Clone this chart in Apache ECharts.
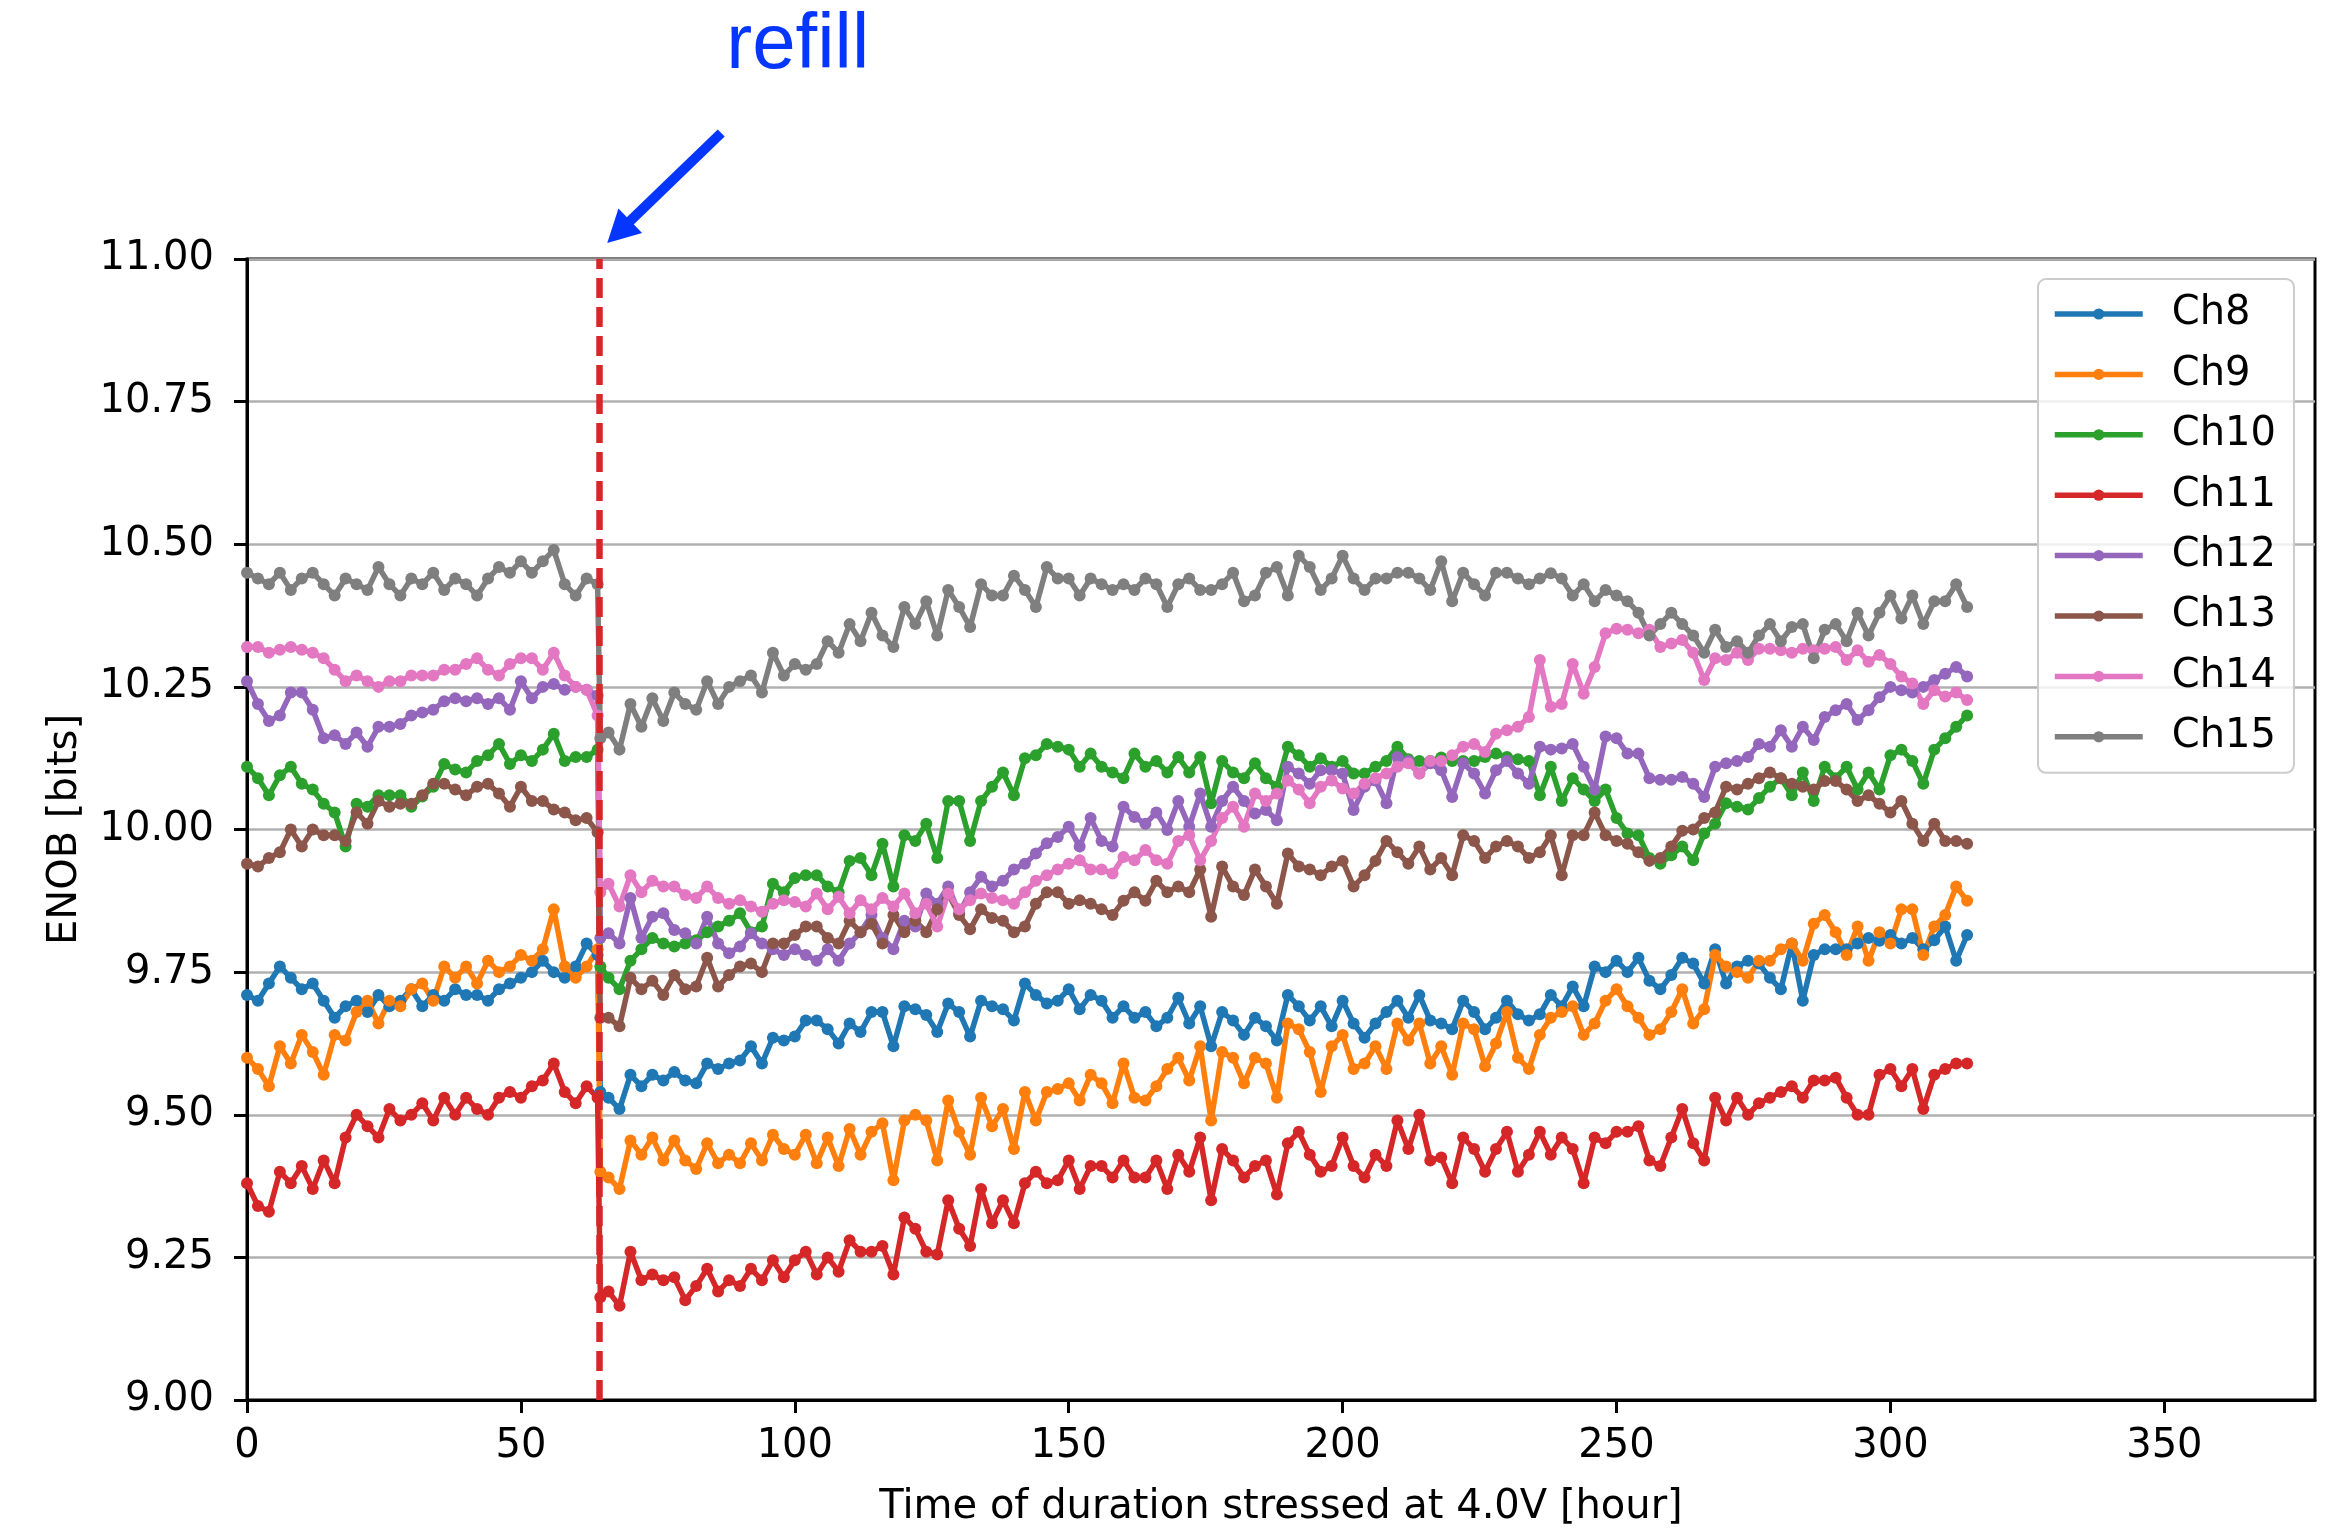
<!DOCTYPE html>
<html>
<head>
<meta charset="utf-8">
<script src="https://cdn.jsdelivr.net/npm/echarts@6/dist/echarts.min.js"></script>
<style>
  html, body { margin: 0; padding: 0; background: #ffffff; }
  #chart { width: 2331px; height: 1533px; }
</style>
</head>
<body>
<div id="chart"></div>
<script>
// Sampling times (hours under 4.0V stress); the refill happens just after 64 h
const HOURS = [
  0,2,4,6,8,10,12,14,16,18,20,22,24,26,28,30,32,34,36,38,40,42,44,46,48,50,52,54,56,58,60,62,64,
  64.5,
  66,68,70,72,74,76,78,80,82,84,86,88,90,92,94,96,98,100,102,104,106,108,110,112,114,116,118,120,
  122,124,126,128,130,132,134,136,138,140,142,144,146,148,150,152,
  154,156,158,160,162,164,166,168,170,172,174,176,178,180,182,184,186,188,190,192,194,196,198,200,
  202,204,206,208,210,212,214,216,218,220,222,224,226,228,230,232,234,236,
  238,240,242,244,246,248,250,252,254,256,258,260,262,264,266,268,270,272,274,276,278,280,282,284,
  286,288,290,292,294,296,298,300,302,304,306,308,310,312,314
];

// ENOB per channel [bits]
const CH8 = [
  9.71,9.70,9.73,9.76,9.74,9.72,9.73,9.70,9.67,9.69,9.70,9.68,9.71,9.69,9.70,9.72,9.69,9.71,9.70,9.72,9.71,9.71,9.70,9.72,9.73,9.74,9.75,9.77,9.75,9.74,9.76,9.80,9.78,
  9.54,
  9.53,9.51,9.57,9.55,9.57,9.56,9.575,9.56,9.555,9.59,9.58,9.59,9.595,9.62,9.59,9.635,9.63,9.637,9.665,9.665,9.65,9.625,9.66,9.645,9.68,9.68,9.62,9.69,9.685,9.675,9.645,9.695,9.68,9.637,9.70,9.69,9.685,9.665,9.73,9.71,9.695,9.70,9.72,9.685,
  9.71,9.70,9.67,9.69,9.67,9.68,9.655,9.67,9.705,9.66,9.69,9.62,9.68,9.665,9.64,9.67,9.655,9.63,9.71,9.69,9.665,9.69,9.655,9.70,9.66,9.635,9.66,9.68,9.70,9.67,9.71,9.665,9.66,9.65,9.70,9.68,9.65,9.67,9.70,9.676,9.665,9.676,
  9.71,9.69,9.725,9.69,9.76,9.75,9.77,9.75,9.775,9.735,9.72,9.745,9.775,9.765,9.73,9.79,9.73,9.76,9.77,9.765,9.74,9.72,9.80,9.70,9.78,9.79,9.79,9.79,9.80,9.81,9.805,9.815,9.80,9.81,9.79,9.806,9.83,9.77,9.815
];
const CH9 = [
  9.60,9.58,9.55,9.62,9.59,9.64,9.61,9.57,9.64,9.63,9.68,9.70,9.66,9.70,9.69,9.72,9.73,9.70,9.76,9.74,9.76,9.73,9.77,9.75,9.76,9.78,9.77,9.79,9.86,9.76,9.74,9.76,9.79,
  9.40,
  9.39,9.37,9.455,9.43,9.46,9.42,9.455,9.42,9.405,9.45,9.415,9.43,9.415,9.45,9.42,9.465,9.44,9.43,9.465,9.415,9.46,9.41,9.475,9.43,9.47,9.485,9.385,9.49,9.50,9.49,9.42,9.525,9.47,9.43,9.53,9.48,9.51,9.44,9.54,9.49,9.54,9.545,9.555,9.525,
  9.57,9.555,9.52,9.59,9.53,9.525,9.55,9.58,9.60,9.56,9.62,9.49,9.61,9.60,9.555,9.60,9.59,9.53,9.66,9.65,9.61,9.54,9.62,9.64,9.58,9.59,9.62,9.58,9.66,9.63,9.66,9.59,9.62,9.57,9.66,9.65,9.585,9.625,9.68,9.60,9.58,9.64,
  9.67,9.68,9.69,9.64,9.66,9.70,9.72,9.69,9.67,9.64,9.65,9.68,9.72,9.66,9.685,9.78,9.76,9.75,9.74,9.77,9.77,9.79,9.80,9.77,9.835,9.85,9.82,9.78,9.83,9.77,9.82,9.80,9.86,9.86,9.78,9.83,9.85,9.90,9.875
];
const CH10 = [
  10.11,10.09,10.06,10.095,10.11,10.08,10.07,10.045,10.03,9.97,10.045,10.04,10.06,10.06,10.06,10.04,10.058,10.075,10.115,10.105,10.10,10.12,10.13,10.15,10.115,10.13,10.12,10.14,10.168,10.12,10.127,10.127,10.14,
  9.76,
  9.74,9.72,9.77,9.79,9.81,9.80,9.795,9.80,9.806,9.82,9.83,9.84,9.853,9.82,9.83,9.905,9.89,9.915,9.92,9.92,9.90,9.89,9.945,9.95,9.92,9.975,9.90,9.99,9.98,10.01,9.95,10.05,10.05,9.98,10.05,10.075,10.10,10.06,10.125,10.13,10.15,10.145,10.14,10.11,
  10.133,10.11,10.10,10.09,10.133,10.11,10.12,10.10,10.127,10.10,10.127,10.046,10.12,10.10,10.09,10.116,10.09,10.075,10.145,10.13,10.11,10.125,10.11,10.12,10.098,10.098,10.11,10.12,10.145,10.123,10.12,10.12,10.126,10.12,10.12,10.12,10.127,10.133,10.127,10.123,10.12,10.06,
  10.11,10.05,10.09,10.07,10.05,10.07,10.02,9.993,9.99,9.95,9.94,9.955,9.97,9.946,9.993,10.01,10.046,10.04,10.035,10.055,10.075,10.09,10.06,10.10,10.05,10.11,10.09,10.11,10.07,10.10,10.07,10.13,10.14,10.12,10.08,10.14,10.16,10.18,10.20
];
const CH11 = [
  9.38,9.34,9.33,9.40,9.38,9.41,9.37,9.42,9.38,9.46,9.50,9.48,9.46,9.51,9.49,9.50,9.52,9.49,9.53,9.50,9.53,9.51,9.50,9.53,9.54,9.53,9.55,9.56,9.59,9.54,9.52,9.55,9.53,
  9.18,
  9.19,9.165,9.26,9.21,9.22,9.21,9.215,9.175,9.20,9.23,9.19,9.21,9.20,9.23,9.21,9.245,9.215,9.245,9.26,9.22,9.25,9.225,9.28,9.26,9.26,9.27,9.22,9.32,9.30,9.26,9.255,9.35,9.30,9.27,9.37,9.31,9.35,9.31,9.38,9.40,9.38,9.385,9.42,9.37,
  9.41,9.41,9.39,9.42,9.39,9.39,9.42,9.37,9.43,9.40,9.46,9.35,9.44,9.42,9.39,9.41,9.42,9.36,9.45,9.47,9.43,9.40,9.41,9.46,9.41,9.39,9.43,9.41,9.49,9.44,9.50,9.42,9.425,9.38,9.46,9.44,9.40,9.44,9.47,9.40,9.43,9.47,
  9.43,9.46,9.44,9.38,9.46,9.45,9.47,9.47,9.48,9.42,9.41,9.46,9.51,9.45,9.42,9.53,9.49,9.53,9.50,9.52,9.53,9.54,9.55,9.53,9.56,9.56,9.565,9.53,9.50,9.50,9.57,9.58,9.55,9.58,9.51,9.57,9.58,9.59,9.59
];
const CH12 = [
  10.26,10.22,10.19,10.20,10.24,10.24,10.21,10.16,10.165,10.15,10.17,10.145,10.18,10.18,10.185,10.20,10.205,10.21,10.225,10.23,10.225,10.23,10.22,10.23,10.21,10.26,10.23,10.25,10.255,10.245,10.25,10.245,10.235,
  9.81,
  9.818,9.80,9.88,9.81,9.847,9.853,9.824,9.818,9.80,9.847,9.80,9.783,9.795,9.818,9.80,9.79,9.78,9.79,9.78,9.77,9.79,9.77,9.80,9.82,9.85,9.81,9.79,9.84,9.83,9.888,9.87,9.90,9.853,9.89,9.917,9.90,9.91,9.93,9.94,9.958,9.976,9.987,10.005,9.97,
  10.02,9.98,9.97,10.04,10.022,10.01,10.03,9.999,10.05,10.005,10.063,10.005,10.05,10.075,10.05,10.028,10.034,10.016,10.11,10.098,10.08,10.104,10.104,10.098,10.034,10.075,10.086,10.046,10.127,10.12,10.098,10.116,10.104,10.057,10.116,10.098,10.063,10.104,10.12,10.098,10.08,10.145,
  10.14,10.142,10.15,10.11,10.07,10.163,10.16,10.133,10.133,10.09,10.087,10.087,10.092,10.08,10.057,10.11,10.116,10.12,10.127,10.15,10.145,10.174,10.145,10.18,10.157,10.197,10.209,10.22,10.192,10.209,10.232,10.25,10.244,10.24,10.25,10.262,10.273,10.285,10.268
];
const CH13 = [
  9.94,9.935,9.95,9.96,10.0,9.97,10.0,9.99,9.99,9.98,10.03,10.01,10.05,10.04,10.045,10.045,10.06,10.08,10.08,10.07,10.06,10.075,10.08,10.063,10.04,10.075,10.05,10.05,10.035,10.03,10.016,10.02,9.995,
  9.67,
  9.67,9.655,9.74,9.72,9.735,9.71,9.745,9.72,9.725,9.775,9.725,9.745,9.76,9.765,9.75,9.80,9.80,9.815,9.83,9.83,9.81,9.80,9.84,9.82,9.835,9.80,9.85,9.82,9.84,9.82,9.86,9.888,9.85,9.825,9.86,9.845,9.84,9.82,9.83,9.87,9.89,9.89,9.87,9.876,
  9.87,9.86,9.85,9.875,9.89,9.875,9.91,9.89,9.90,9.89,9.93,9.847,9.935,9.90,9.885,9.93,9.90,9.87,9.958,9.935,9.93,9.92,9.935,9.945,9.90,9.92,9.945,9.98,9.96,9.94,9.97,9.93,9.95,9.92,9.99,9.98,9.95,9.97,9.98,9.97,9.95,9.96,
  9.99,9.92,9.99,9.99,10.03,9.99,9.98,9.975,9.96,9.945,9.95,9.97,9.998,10.0,10.02,10.03,10.075,10.07,10.08,10.09,10.10,10.09,10.08,10.075,10.07,10.085,10.085,10.07,10.05,10.06,10.045,10.03,10.05,10.01,9.98,10.01,9.98,9.98,9.975
];
const CH14 = [
  10.32,10.32,10.31,10.315,10.32,10.315,10.31,10.30,10.28,10.26,10.27,10.26,10.25,10.26,10.26,10.27,10.27,10.27,10.28,10.28,10.29,10.30,10.28,10.27,10.29,10.30,10.30,10.28,10.31,10.27,10.25,10.245,10.20,
  9.89,
  9.905,9.865,9.92,9.89,9.91,9.90,9.90,9.885,9.88,9.90,9.88,9.87,9.876,9.865,9.856,9.87,9.876,9.873,9.865,9.888,9.86,9.882,9.853,9.876,9.86,9.88,9.865,9.888,9.853,9.87,9.83,9.888,9.86,9.876,9.888,9.88,9.876,9.87,9.89,9.91,9.92,9.93,9.94,9.946,
  9.93,9.93,9.923,9.952,9.946,9.964,9.946,9.94,9.98,9.99,9.946,9.98,10.02,10.04,10.005,10.063,10.05,10.063,10.086,10.07,10.046,10.075,10.086,10.072,10.063,10.08,10.09,10.098,10.11,10.116,10.098,10.12,10.12,10.13,10.145,10.15,10.136,10.168,10.174,10.18,10.197,10.297,
  10.215,10.22,10.29,10.238,10.285,10.344,10.352,10.35,10.344,10.35,10.32,10.326,10.332,10.31,10.262,10.30,10.297,10.31,10.297,10.317,10.317,10.314,10.31,10.317,10.314,10.317,10.32,10.297,10.314,10.294,10.306,10.29,10.268,10.256,10.22,10.244,10.233,10.24,10.227
];
const CH15 = [
  10.45,10.44,10.43,10.45,10.42,10.44,10.45,10.43,10.41,10.44,10.43,10.42,10.46,10.43,10.41,10.44,10.43,10.45,10.42,10.44,10.43,10.41,10.44,10.46,10.45,10.47,10.45,10.47,10.49,10.43,10.41,10.44,10.43,
  10.16,
  10.17,10.14,10.22,10.18,10.23,10.19,10.24,10.22,10.21,10.26,10.22,10.25,10.26,10.27,10.24,10.31,10.27,10.29,10.28,10.29,10.33,10.31,10.36,10.33,10.38,10.34,10.32,10.39,10.36,10.40,10.34,10.42,10.39,10.355,10.43,10.41,10.41,10.445,10.42,10.39,10.46,10.44,10.44,10.41,
  10.44,10.43,10.42,10.43,10.42,10.44,10.43,10.39,10.43,10.44,10.42,10.42,10.43,10.45,10.40,10.41,10.45,10.46,10.41,10.48,10.46,10.42,10.44,10.48,10.44,10.42,10.44,10.44,10.45,10.45,10.44,10.42,10.47,10.40,10.45,10.43,10.41,10.45,10.45,10.44,10.43,10.44,
  10.449,10.44,10.41,10.43,10.40,10.42,10.41,10.40,10.38,10.34,10.36,10.38,10.36,10.34,10.31,10.35,10.32,10.33,10.31,10.34,10.36,10.33,10.355,10.36,10.30,10.35,10.36,10.33,10.38,10.34,10.38,10.41,10.37,10.41,10.36,10.40,10.40,10.43,10.39
];

const CHANNEL_NAMES = ['Ch8', 'Ch9', 'Ch10', 'Ch11', 'Ch12', 'Ch13', 'Ch14', 'Ch15'];
const CHANNEL_VALUES = [CH8, CH9, CH10, CH11, CH12, CH13, CH14, CH15];
const COLORS = ['#1f77b4', '#ff7f0e', '#2ca02c', '#d62728', '#9467bd', '#8c564b', '#e377c2', '#7f7f7f'];

const REFILL_HOUR = 64.3;
const X_MAX = 377.5;
const FONT = 'DejaVu Sans';

(function () {
  const chart = echarts.init(document.getElementById('chart'), null, { renderer: 'canvas' });

  const lineSeries = CHANNEL_NAMES.map((name, k) => ({
    name: name,
    type: 'line',
    data: HOURS.map((h, i) => [h, CHANNEL_VALUES[k][i]]),
    symbol: 'circle',
    symbolSize: 12,
    showSymbol: true,
    color: COLORS[k],
    lineStyle: { width: 5.5, color: COLORS[k] },
    itemStyle: { color: COLORS[k], borderWidth: 0 },
    emphasis: { disabled: true },
    z: 2
  }));

  // Vertical dashed marker at the refill time
  const refillSeries = {
    name: 'refill',
    type: 'line',
    data: [],
    z: 3,
    silent: true,
    markLine: {
      silent: true,
      symbol: ['none', 'none'],
      label: { show: false },
      lineStyle: { color: '#d62728', width: 6.5, type: [20, 9] },
      emphasis: { disabled: true },
      data: [{ xAxis: REFILL_HOUR }]
    }
  };

  const option = {
    animation: false,
    backgroundColor: '#ffffff',
    textStyle: { fontFamily: FONT },
    grid: {
      left: 247, right: 16, top: 259, bottom: 133,
      show: true, borderColor: '#000000', borderWidth: 3, backgroundColor: 'transparent',
      containLabel: false
    },
    xAxis: {
      type: 'value',
      min: 0, max: X_MAX, interval: 50,
      name: 'Time of duration stressed at 4.0V [hour]',
      nameLocation: 'middle',
      nameGap: 88,
      nameTextStyle: { fontFamily: FONT, fontSize: 40, color: '#000' },
      axisLine: { show: true, onZero: false, lineStyle: { color: '#000', width: 3 } },
      axisTick: { show: true, inside: false, length: 13, lineStyle: { color: '#000', width: 3 } },
      axisLabel: { show: true, margin: 27, fontFamily: FONT, fontSize: 40, color: '#000', showMaxLabel: false },
      splitLine: { show: false }
    },
    yAxis: {
      type: 'value',
      min: 9, max: 11, interval: 0.25,
      name: 'ENOB [bits]',
      nameLocation: 'middle',
      nameRotate: 90,
      nameGap: 161,
      nameTextStyle: { fontFamily: FONT, fontSize: 40, color: '#000' },
      axisLine: { show: true, onZero: false, lineStyle: { color: '#000', width: 3 } },
      axisTick: { show: true, inside: false, length: 13, lineStyle: { color: '#000', width: 3 } },
      axisLabel: {
        show: true, margin: 33, fontFamily: FONT, fontSize: 40, color: '#000',
        formatter: v => v.toFixed(2)
      },
      splitLine: { show: true, lineStyle: { color: '#b0b0b0', width: 2.5 } }
    },
    legend: {
      data: CHANNEL_NAMES,
      orient: 'vertical',
      left: 2038, top: 279,
      padding: [12, 18, 13, 14],
      itemGap: 14.4,
      itemWidth: 88,
      itemHeight: 14,
      selectedMode: false,
      backgroundColor: 'rgba(255,255,255,0.8)',
      borderColor: '#cccccc',
      borderWidth: 2,
      borderRadius: 8,
      lineStyle: { width: 5.5 },
      textStyle: { fontFamily: FONT, fontSize: 40, color: '#000', lineHeight: 46, padding: [0, 0, 0, 24] },
      z: 10
    },
    series: lineSeries.concat([refillSeries])
  };

  chart.setOption(option);

  // "refill" annotation: arrow pointing at the top of the refill marker
  const markTop = chart.convertToPixel({ gridIndex: 0 }, [REFILL_HOUR, 11]);
  const tip = [markTop[0] + 8, markTop[1] - 16];
  const tail = [tip[0] + 114, tip[1] - 110];
  const ddx = tip[0] - tail[0], ddy = tip[1] - tail[1];
  const len = Math.sqrt(ddx * ddx + ddy * ddy);
  const ux = ddx / len, uy = ddy / len;
  const headLen = 32, headHalf = 17;
  const headBase = [tip[0] - ux * headLen, tip[1] - uy * headLen];
  const nx = -uy, ny = ux;

  chart.setOption({
    graphic: [
      {
        type: 'line',
        z: 20,
        shape: { x1: tail[0], y1: tail[1], x2: headBase[0] + ux * 4, y2: headBase[1] + uy * 4 },
        style: { stroke: '#0536ff', lineWidth: 10 }
      },
      {
        type: 'polygon',
        z: 20,
        shape: {
          points: [
            tip,
            [headBase[0] + nx * headHalf, headBase[1] + ny * headHalf],
            [headBase[0] - nx * headHalf, headBase[1] - ny * headHalf]
          ]
        },
        style: { fill: '#0536ff' }
      },
      {
        type: 'text',
        z: 20,
        x: tip[0] + 119,
        y: tip[1] - 197,
        style: {
          text: 'refill',
          font: '78px "Liberation Sans", Arial, sans-serif',
          fill: '#0536ff',
          align: 'left',
          verticalAlign: 'middle'
        }
      }
    ]
  });
})();
</script>
</body>
</html>
